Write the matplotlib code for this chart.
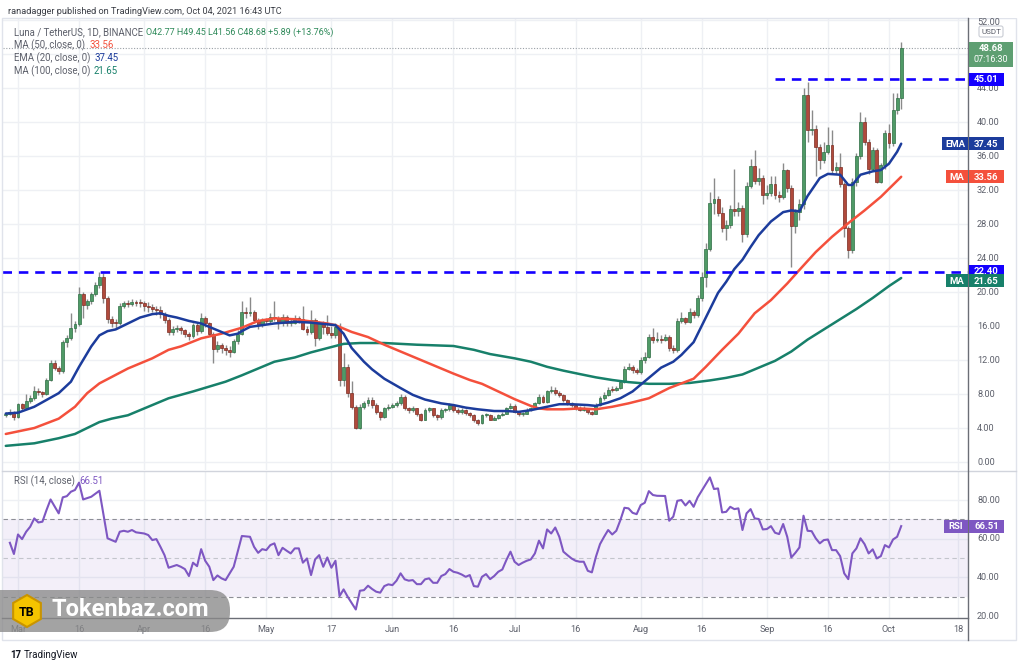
import numpy as np
import matplotlib
matplotlib.use("Agg")
import matplotlib.pyplot as plt
from matplotlib.patches import Rectangle, FancyBboxPatch, RegularPolygon

plt.rcParams['font.family'] = ['Roboto', 'DejaVu Sans']

# ---------------- data (day 0 = 2021-03-01) ----------------
first_day = -3
first_open = 5.5
closes = [5.6, 5.9, 5.35, 6.8, 6.4, 7.2, 7.5, 8.4, 8.2, 8.0, 9.7, 11.7,
          11.1, 10.7, 14.15, 14.55, 15.8, 16.2, 19.8, 18.5, 18.9, 19.8, 20.8, 21.8,
          19.25, 16.8, 16.4, 16.3, 18.35, 18.7, 18.6, 18.8, 18.7, 18.65, 18.3, 18.2,
          18.0, 17.9, 17.4, 16.7, 15.3, 15.7, 15.8, 15.5, 15.1, 14.8, 16.1, 15.4,
          16.9, 16.3, 15.1, 13.3, 13.8, 13.4, 13.2, 13.0, 14.2, 15.1, 17.7, 17.5,
          17.7, 16.7, 16.1, 16.7, 16.6, 17.1, 16.9, 16.3, 17.1, 16.3, 16.4, 16.9,
          16.8, 15.7, 15.3, 16.7, 14.6, 16.3, 15.9, 15.2, 14.9, 15.9, 9.65, 11.2,
          8.1, 6.5, 4.0, 6.5, 6.9, 7.3, 6.7, 5.9, 5.35, 6.3, 6.5, 6.7,
          6.9, 7.7, 6.3, 6.1, 6.3, 5.7, 5.0, 6.1, 6.3, 5.5, 5.25, 6.1,
          6.2, 6.7, 6.1, 5.9, 6.1, 5.75, 5.5, 4.95, 4.6, 5.5, 5.55, 5.0,
          5.2, 5.5, 5.7, 6.3, 6.6, 5.9, 5.6, 5.7, 6.1, 6.3, 6.9, 7.7,
          7.1, 8.3, 8.5, 8.1, 7.9, 7.3, 6.9, 6.7, 6.3, 6.15, 6.3, 5.9,
          5.7, 6.7, 7.5, 7.9, 8.5, 8.45, 8.7, 9.45, 11.0, 11.2, 10.8, 10.6,
          12.0, 12.4, 14.7, 14.4, 14.5, 14.4, 14.7, 13.4, 13.2, 16.6, 16.9, 16.5,
          17.7, 17.3, 19.3, 21.8, 25.1, 30.5, 30.9, 29.3, 27.5, 27.9, 29.8, 29.5,
          29.9, 26.8, 32.5, 34.8, 33.1, 33.4, 31.4, 31.6, 32.7, 31.4, 31.2, 34.3,
          32.2, 27.8, 29.4, 30.4, 43.2, 39.1, 39.2, 37.1, 35.5, 36.5, 37.3, 34.3,
          34.7, 32.7, 27.5, 25.0, 33.0, 36.0, 40.0, 37.7, 34.5, 36.7, 33.0, 34.9,
          38.7, 37.5, 41.4, 42.77, 48.68]
highs = [5.9, 6.2, 6.0, 7.0, 7.0, 8.0, 7.9, 8.9, 8.7, 8.4, 9.9, 12.0,
         12.0, 11.3, 14.4, 15.0, 17.5, 16.6, 20.6, 20.0, 19.2, 20.0, 21.2, 22.4,
         22.2, 19.5, 17.2, 16.8, 18.7, 19.0, 19.1, 19.2, 19.1, 19.2, 19.0, 18.8,
         18.6, 18.4, 18.3, 17.7, 16.9, 16.0, 16.1, 16.0, 15.7, 15.3, 16.4, 16.3,
         17.5, 17.2, 16.5, 15.3, 14.2, 14.0, 13.8, 13.7, 14.5, 15.5, 18.9, 18.2,
         19.45, 17.9, 16.9, 17.0, 17.0, 17.5, 19.0, 17.2, 17.4, 17.3, 16.8, 17.3,
         17.2, 18.3, 16.0, 17.9, 16.9, 16.6, 16.6, 17.3, 16.0, 16.3, 16.3, 12.8,
         11.5, 9.5, 6.7, 6.8, 7.2, 7.6, 7.6, 6.9, 6.0, 6.5, 6.8, 7.0,
         7.2, 8.0, 7.9, 6.5, 6.6, 6.4, 5.8, 6.3, 6.5, 6.4, 5.7, 6.3,
         6.4, 7.0, 6.8, 6.3, 6.3, 6.2, 5.9, 5.6, 5.1, 5.7, 5.8, 5.7,
         5.4, 5.7, 5.9, 6.5, 7.0, 6.8, 6.0, 5.9, 6.3, 6.5, 7.1, 8.0,
         7.9, 8.5, 8.9, 8.8, 8.4, 8.0, 7.4, 7.1, 6.8, 6.6, 6.6, 6.4,
         6.0, 6.9, 7.8, 8.2, 8.8, 8.9, 9.0, 9.7, 11.3, 11.6, 11.4, 11.1,
         12.3, 12.9, 15.1, 15.8, 15.3, 15.0, 15.1, 14.9, 13.8, 16.9, 17.6, 17.1,
         18.1, 17.9, 19.7, 22.3, 25.8, 31.8, 33.4, 31.3, 30.0, 28.5, 30.2, 34.5,
         30.6, 30.2, 33.0, 35.7, 36.7, 34.6, 33.8, 32.6, 33.7, 33.6, 31.9, 35.2,
         34.5, 32.6, 29.8, 30.9, 44.0, 44.7, 41.4, 39.6, 37.4, 37.7, 39.4, 39.1,
         35.3, 36.3, 33.0, 27.8, 33.4, 36.4, 41.2, 40.6, 38.0, 37.1, 37.0, 35.2,
         39.1, 39.8, 43.4, 43.4, 49.45]
lows = [5.3, 5.5, 4.9, 5.2, 6.1, 6.3, 7.0, 7.3, 7.9, 7.7, 7.9, 9.5,
        10.8, 10.4, 10.5, 13.5, 14.4, 15.3, 16.0, 16.9, 18.0, 18.6, 19.5, 20.5,
        18.7, 16.3, 15.9, 15.7, 16.1, 18.1, 18.2, 18.3, 18.3, 18.2, 17.8, 17.7,
        17.6, 17.3, 17.0, 16.3, 14.9, 15.0, 15.3, 15.1, 14.7, 14.3, 14.6, 15.0,
        15.2, 15.9, 14.8, 11.6, 12.9, 12.8, 12.6, 12.4, 12.8, 13.9, 15.0, 17.0,
        17.2, 16.4, 15.7, 15.9, 16.2, 16.4, 16.6, 15.7, 16.0, 16.0, 16.0, 16.2,
        16.4, 15.5, 14.9, 15.1, 13.6, 14.4, 15.1, 14.9, 14.6, 14.6, 9.0, 9.0,
        7.7, 6.2, 3.9, 3.9, 6.2, 6.6, 6.4, 5.6, 5.0, 5.2, 6.1, 6.3,
        6.5, 6.7, 6.1, 5.8, 5.9, 5.4, 4.8, 4.9, 5.9, 5.3, 5.0, 5.1,
        5.9, 6.0, 5.9, 5.7, 5.7, 5.5, 5.3, 4.7, 4.4, 4.5, 5.3, 4.9,
        4.9, 5.1, 5.4, 5.6, 6.2, 5.8, 5.4, 5.4, 5.6, 6.0, 6.2, 6.8,
        6.9, 7.0, 8.1, 7.9, 7.6, 7.1, 6.7, 6.5, 6.1, 6.0, 6.0, 5.7,
        5.5, 5.6, 6.6, 7.3, 7.8, 8.2, 8.3, 8.6, 9.3, 10.8, 10.5, 10.3,
        10.4, 11.7, 12.2, 14.0, 14.1, 14.0, 14.2, 13.1, 12.8, 13.0, 16.3, 16.2,
        16.3, 16.9, 17.1, 19.0, 20.6, 24.8, 29.2, 28.9, 27.1, 26.1, 27.5, 29.0,
        29.0, 25.9, 26.5, 32.2, 32.7, 32.6, 30.4, 30.9, 31.3, 31.0, 30.6, 31.0,
        31.8, 23.0, 27.0, 28.5, 29.8, 37.7, 38.5, 33.6, 34.5, 35.2, 36.2, 33.9,
        33.9, 32.4, 26.5, 24.0, 24.6, 32.5, 35.6, 37.3, 33.9, 34.2, 32.8, 32.8,
        34.5, 37.0, 37.2, 41.0, 41.56]

ema20_days = [-3, 0, 4, 7, 10, 13, 15, 18, 20, 22, 24, 27, 30, 33, 35, 37, 39, 42, 45, 47,
              50, 52, 54, 55, 57, 60, 63, 68, 72, 76, 78, 80, 82, 85, 87, 90, 94, 97, 100, 104,
              107, 110, 113, 117, 120, 123, 126, 130, 133, 136, 140, 142, 145, 148, 151, 154,
              156, 158, 161, 163, 166, 169, 172, 174, 176, 178, 180, 182, 185, 188, 190, 192,
              194, 197, 199, 202, 204, 205, 207, 210, 212, 214, 216, 217]
ema20_vals = [5.7, 5.8, 6.5, 7.3, 8.1, 9.45, 11.2, 13.6, 14.9, 15.4, 15.6, 16.3, 17.0, 17.4, 17.5, 17.2, 17.0, 16.6, 16.3, 15.9,
              15.3, 14.9, 15.1, 15.4, 15.9, 16.1, 16.3, 16.5, 16.4, 16.2, 16.1, 15.1, 13.4, 11.8, 10.9, 9.8, 8.7, 7.9, 7.35, 6.9,
              6.7, 6.4, 6.2, 6.0, 6.0, 5.9, 6.1, 6.5, 6.8, 6.8, 6.7, 6.6, 7.0, 7.5, 8.3, 9.5,
              10.3, 11.1, 11.8, 12.6, 14.1, 17.0, 19.9, 21.2, 22.7, 23.8, 25.3, 26.7, 28.3, 29.4, 29.6, 29.5,
              31.3, 33.4, 33.9, 33.8, 32.6, 32.6, 33.8, 34.2, 34.35, 35.1, 36.5, 37.45]

ma50_days = [-3, 4, 10, 14, 17, 20, 23, 27, 30, 33, 37, 40, 45, 50, 55, 59, 63, 68, 71, 76,
             78, 82, 86, 90, 95, 99, 103, 107, 111, 114, 118, 122, 126, 128, 130, 134, 138, 142,
             146, 150, 155, 160, 166, 169, 173, 177, 181, 185, 189, 192, 196, 200, 204, 208, 212, 217]
ma50_vals = [3.3, 4.0, 5.1, 6.5, 8.1, 9.25, 10.0, 11.0, 11.6, 12.2, 13.2, 13.6, 14.55, 15.1, 15.8, 16.6, 16.9, 16.8, 16.6, 16.3,
             16.1, 15.3, 14.7, 13.8, 12.8, 12.0, 11.2, 10.4, 9.65, 9.2, 8.3, 7.4, 6.6, 6.3, 6.2, 6.2, 6.3, 6.2,
             6.5, 6.9, 7.5, 8.7, 9.8, 11.2, 13.2, 15.1, 17.5, 19.05, 21.0, 22.6, 24.7, 26.5, 28.1, 29.6, 31.2, 33.56]

ma100_days = [-3, 4, 10, 14, 17, 20, 23, 27, 30, 33, 37, 43, 51, 55, 59, 63, 68, 72, 76, 80,
              84, 90, 98, 107, 112, 116, 122, 126, 130, 134, 138, 142, 146, 150, 155, 160, 165, 170,
              174, 178, 182, 186, 190, 194, 198, 202, 206, 210, 214, 217]
ma100_vals = [1.9, 2.2, 2.8, 3.3, 4.0, 4.7, 5.1, 5.5, 6.1, 6.7, 7.5, 8.3, 9.45, 10.2, 11.0, 11.8, 12.3, 12.9, 13.4, 13.9,
              14.0, 14.0, 13.8, 13.65, 13.2, 12.7, 12.2, 11.8, 11.2, 10.75, 10.35, 9.96, 9.65, 9.4, 9.2, 9.2, 9.3, 9.6,
              9.9, 10.3, 11.1, 11.9, 13.0, 14.4, 15.6, 16.8, 18.0, 19.3, 20.7, 21.65]

rsi_days = [-2, -1, 0, 1, 2, 3, 4, 5, 6, 7, 8, 10, 11, 12, 13, 14, 15, 16, 18, 20,
            22, 24, 25, 26, 27, 28, 29, 31, 32, 33, 34, 35, 36, 37, 39, 40, 41, 42, 43, 44,
            45, 46, 47, 48, 49, 50, 51, 52, 53, 55, 57, 58, 59, 60, 61, 62, 63, 64, 65, 66,
            67, 68, 69, 70, 71, 72, 73, 74, 75, 76, 77, 78, 79, 80, 81, 83, 84, 85, 86, 87,
            88, 89, 90, 91, 92, 93, 94, 95, 96, 97, 98, 99, 100, 101, 102, 103, 104, 105, 106, 107,
            108, 109, 110, 111, 112, 113, 114, 115, 116, 117, 118, 119, 120, 121, 122, 123, 124, 125, 126, 127,
            128, 129, 130, 131, 132, 133, 134, 135, 136, 137, 138, 139, 140, 141, 142, 143, 144, 145, 146, 147,
            148, 149, 150, 151, 152, 153, 154, 155, 156, 157, 159, 160, 161, 162, 163, 164, 165, 166, 167, 168,
            170, 171, 172, 173, 174, 175, 176, 177, 178, 179, 180, 181, 182, 183, 184, 185, 186, 187, 188, 189,
            190, 191, 192, 193, 194, 195, 196, 197, 198, 199, 200, 201, 202, 203, 204, 205, 206, 207, 208, 209,
            210, 211, 212, 213, 214, 215, 216, 217]
rsi_vals = [57.9, 52.1, 62.2, 59.8, 63.6, 66.2, 70.5, 68.4, 68.8, 74.8, 80.3, 73.1, 81.4, 82.0, 84.3, 85.2, 89.0, 80.3, 81.7, 84.8,
            60.2, 58.4, 63.6, 64.1, 63.6, 64.5, 63.3, 62.7, 61.9, 59.3, 59.8, 55.8, 51.5, 45.0, 46.4, 45.5, 44.3, 40.7, 47.6, 45.8,
            54.6, 48.6, 45.5, 38.6, 41.0, 39.5, 38.6, 42.1, 45.5, 61.4, 61.0, 55.8, 52.7, 54.6, 54.1, 56.7, 57.6, 51.5, 55.3, 53.8,
            52.4, 55.0, 55.0, 47.6, 49.8, 41.2, 49.3, 51.5, 45.5, 50.3, 45.0, 48.6, 30.3, 33.8, 30.0, 23.4, 33.1, 33.4, 35.7, 34.0,
            32.6, 32.1, 35.5, 36.4, 36.0, 38.3, 42.1, 39.0, 38.3, 38.6, 36.5, 36.5, 39.0, 39.5, 37.2, 37.2, 40.7, 41.7, 44.3, 42.9,
            42.4, 41.5, 40.3, 41.2, 35.5, 35.2, 40.3, 41.7, 39.1, 40.7, 42.9, 44.1, 49.0, 53.3, 48.1, 46.4, 47.6, 48.6, 49.3, 52.4,
            59.0, 55.0, 64.8, 62.7, 65.8, 61.0, 53.3, 51.5, 49.8, 48.6, 48.1, 48.1, 43.4, 42.6, 50.7, 57.2, 61.0, 64.5, 62.2, 64.1,
            69.6, 76.0, 75.7, 73.4, 72.7, 77.4, 78.6, 84.6, 82.6, 82.2, 82.1, 69.3, 71.4, 79.6, 80.0, 77.2, 79.6, 76.5, 81.4, 84.8,
            91.7, 85.7, 86.0, 73.6, 73.9, 76.5, 75.3, 75.7, 64.5, 73.1, 75.3, 70.5, 70.2, 64.8, 65.0, 66.5, 63.1, 62.4, 67.6, 61.0,
            50.3, 52.7, 55.5, 71.9, 64.1, 63.9, 60.2, 57.6, 59.3, 59.6, 54.1, 54.1, 51.0, 42.1, 39.1, 52.4, 55.0, 60.2, 57.2, 52.4,
            54.5, 49.8, 51.0, 56.7, 55.5, 59.6, 61.0, 66.51]

levels = [45.01, 22.40]
level_start_days = [186, first_day - 1]

tick_days = [0, 15, 31, 46, 61, 77, 92, 107, 122, 137, 153, 168, 184, 199, 214, 231]
tick_labels = ["Mar", "16", "Apr", "16", "May", "17", "Jun", "16", "Jul", "16",
               "Aug", "16", "Sep", "16", "Oct", "18"]
price_ticks = list(range(0, 53, 4))
price_ticks_hidden = [48]          # covered by the last-price tag
rsi_ticks = [20, 40, 60, 80]

last_ema, last_ma50, last_ma100, last_rsi = 37.45, 33.56, 21.65, 66.51

# ---------------- styling ----------------
W, H = 1024, 667
UP, DOWN = "#4f9a66", "#b04a3c"
UP_E, DOWN_E = "#2f6f45", "#7d2c22"
WICK = "#8a8a8a"
C_EMA, C_MA50, C_MA100 = "#1c3c9c", "#f4503c", "#17806a"
C_LVL = "#1400ff"
C_RSI = "#7e57c2"
GRID = "#eef0f4"
TXT = "#5d606b"

fig = plt.figure(figsize=(W / 100, H / 100), dpi=100)
fig.patch.set_facecolor("white")

def fa(l, t, r, b):
    return [l / W, 1 - b / H, (r - l) / W, (b - t) / H]

ax = fig.add_axes(fa(3, 18, 968, 470))
axr = fig.add_axes(fa(3, 472, 968, 618))

px_per_day = 4.07
xmin = (3 - 18) / px_per_day
xmax = (968 - 18) / px_per_day

days = np.arange(first_day, first_day + len(closes))
c = np.array(closes)
o = np.concatenate([[first_open], c[:-1]])
hi = np.array(highs)
lo = np.array(lows)
up = c >= o

# grid
for a in (ax, axr):
    a.set_xlim(xmin, xmax)
    for d in tick_days:
        a.axvline(d, color=GRID, lw=1, zorder=0)
    a.set_xticks([])
    a.tick_params(left=False, right=False, labelleft=False, labelright=False, bottom=False, labelbottom=False)
    for s in a.spines.values():
        s.set_visible(False)

ax.set_ylim(-0.94, 52.24)
for p in price_ticks:
    ax.axhline(p, color=GRID, lw=1, zorder=0)

# candles
ax.vlines(days, lo, hi, color=WICK, lw=1.0, zorder=2)
body_lo = np.minimum(o, c)
body_h = np.maximum(np.abs(c - o), 0.12)
ax.bar(days[up], body_h[up], bottom=body_lo[up], width=0.72, color=UP, edgecolor=UP_E, lw=0.5, zorder=3)
ax.bar(days[~up], body_h[~up], bottom=body_lo[~up], width=0.72, color=DOWN, edgecolor=DOWN_E, lw=0.5, zorder=3)

# moving averages
ax.plot(ma100_days, ma100_vals, color=C_MA100, lw=1.8, zorder=4, solid_capstyle="round")
ax.plot(ma50_days, ma50_vals, color=C_MA50, lw=1.8, zorder=4, solid_capstyle="round")
ax.plot(ema20_days, ema20_vals, color=C_EMA, lw=1.8, zorder=5, solid_capstyle="round")

# horizontal levels
for lv, sd in zip(levels, level_start_days):
    ax.plot([sd, xmax], [lv, lv], color=C_LVL, lw=1.9, ls=(0, (3.6, 2.6)), zorder=6)
# last price dotted
ax.axhline(closes[-1], color="#9aa0a6", lw=0.8, ls=(0, (1, 1.5)), zorder=1)

# RSI panel
axr.set_ylim(19.0, 94.5)
for v in (40, 60, 80):
    axr.axhline(v, color=GRID, lw=1, zorder=0)
axr.axhspan(30, 70, color=C_RSI, alpha=0.09, lw=0, zorder=0)
axr.axhline(70, color="#8d8f96", lw=0.8, ls=(0, (4, 3)), zorder=1)
axr.axhline(30, color="#8d8f96", lw=0.8, ls=(0, (4, 3)), zorder=1)
axr.axhline(50, color="#c3c5cc", lw=0.8, ls=(0, (4, 3)), zorder=1)
axr.plot(rsi_days, rsi_vals, color=C_RSI, lw=1.5, zorder=3)

# ---------------- overlay in pixel coords ----------------
ov = fig.add_axes([0, 0, 1, 1], facecolor="none")
ov.set_xlim(0, W)
ov.set_ylim(H, 0)
ov.axis("off")

def ypix(a, val):
    return H - a.transData.transform((0, val))[1]

def xpix(a, d):
    return a.transData.transform((d, 0))[0]

# frame
frame = Rectangle((2, 18), 1014, 622, fill=False, ec="#e0e3eb", lw=1)
ov.add_patch(frame)
ov.plot([2, 1016], [470.5, 470.5], color="#d1d4dc", lw=1)
ov.plot([968, 968], [18, 640], color="#6b6e76", lw=1)
ov.plot([2, 968], [618, 618], color="#6b6e76", lw=1)

# axis tick labels
for p in price_ticks:
    if p in price_ticks_hidden:
        continue
    ov.text(977, ypix(ax, p) + (2 if p == 52 else 0), f"{p:.2f}", fontsize=6.6, color=TXT,
            va="center", ha="left")
for r in rsi_ticks:
    ov.text(977, ypix(axr, r), f"{r:.2f}", fontsize=6.6, color=TXT, va="center", ha="left")
for d, lab in zip(tick_days, tick_labels):
    ov.text(xpix(axr, d), 629, lab, fontsize=6.6, color=TXT, va="center", ha="center")
# the top of the price scale is cut by the chart frame
ov.add_patch(Rectangle((969, 0), 50, 17.5, fc="white", ec="none", zorder=5))

# USDT label
ov.add_patch(FancyBboxPatch((979, 26), 24, 11, boxstyle="round,pad=0,rounding_size=2",
                            fc="white", ec="#c9ccd4", lw=0.8))
ov.text(991, 31.8, "USDT", fontsize=5.8, color=TXT, ha="center", va="center")

def value_box(y, text, color, x0=969, w=35, h=13, fs=6.8):
    ov.add_patch(Rectangle((x0, y - h / 2), w, h, fc=color, ec="none", zorder=10))
    ov.text(x0 + w / 2, y + 0.3, text, fontsize=fs, color="white", ha="center", va="center",
            fontweight="bold", zorder=11)

# last price box
yl = ypix(ax, closes[-1])
ov.add_patch(Rectangle((969, yl - 6), 44, 25, fc="#5e9f72", ec="none", zorder=10))
ov.text(991, yl + 0.5, f"{closes[-1]:.2f}", fontsize=6.8, color="white", ha="center", va="center",
        fontweight="bold", zorder=11)
ov.text(991, yl + 11.5, "07:16:30", fontsize=6.5, color="white", ha="center", va="center", zorder=11)

value_box(ypix(ax, levels[0]), f"{levels[0]:.2f}", C_LVL)
value_box(ypix(ax, levels[1]), f"{levels[1]:.2f}", C_LVL)
value_box(ypix(ax, last_ema), f"{last_ema:.2f}", C_EMA)
value_box(ypix(ax, last_ema), "EMA", C_EMA, x0=942, w=26)
value_box(ypix(ax, last_ma50), f"{last_ma50:.2f}", C_MA50)
value_box(ypix(ax, last_ma50), "MA", C_MA50, x0=946, w=22)
value_box(ypix(ax, last_ma100) + 3, f"{last_ma100:.2f}", C_MA100)
value_box(ypix(ax, last_ma100) + 3, "MA", C_MA100, x0=946, w=22)
value_box(ypix(axr, last_rsi), f"{last_rsi:.2f}", C_RSI)
value_box(ypix(axr, last_rsi), "RSI", C_RSI, x0=944, w=24)

# header & legends
ov.text(8, 11, "ranadagger published on TradingView.com, Oct 04, 2021 16:43 UTC",
        fontsize=6.6, color="#3a3d45", va="center", ha="left")
fs_leg = 6.9
ov.text(14, 32, "Luna / TetherUS, 1D, BINANCE", fontsize=fs_leg, color=TXT, va="center")
ov.text(146, 32, "O42.77 H49.45 L41.56 C48.68 +5.89 (+13.76%)", fontsize=6.5,
        color="#2f8a5a", va="center")
ov.text(14, 45, "MA (50, close, 0)", fontsize=fs_leg, color=TXT, va="center")
ov.text(89, 45, f"{last_ma50:.2f}", fontsize=fs_leg, color=C_MA50, va="center")
ov.text(14, 58, "EMA (20, close, 0)", fontsize=fs_leg, color=TXT, va="center")
ov.text(94, 58, f"{last_ema:.2f}", fontsize=fs_leg, color=C_EMA, va="center")
ov.text(14, 71, "MA (100, close, 0)", fontsize=fs_leg, color=TXT, va="center")
ov.text(94, 71, f"{last_ma100:.2f}", fontsize=fs_leg, color=C_MA100, va="center")
ov.text(14, 481, "RSI (14, close)", fontsize=fs_leg, color=TXT, va="center")
ov.text(79, 481, f"{last_rsi:.2f}", fontsize=fs_leg, color=C_RSI, va="center")

# watermark
ov.add_patch(FancyBboxPatch((-20, 590), 250, 42, boxstyle="round,pad=0,rounding_size=20",
                            fc="#8a8a8a", ec="none", alpha=0.78, zorder=12))
ov.add_patch(RegularPolygon((27, 611), numVertices=6, radius=16, orientation=0,
                            fc="#f5c400", ec="#c99400", lw=1.5, zorder=13))
ov.text(27, 612, "TB", fontsize=9, fontweight="bold", color="black", ha="center", va="center", zorder=14)
ov.text(51, 610, "Tokenbaz.com", fontsize=17, fontweight="bold", color="white",
        ha="left", va="center", zorder=14)

# footer
ov.text(10, 655, "17", fontsize=7, fontweight="bold", color="#131722", va="center")
ov.text(24, 655, "TradingView", fontsize=7, color="#131722", va="center")

fig.savefig("out.png", dpi=100, facecolor="white")
